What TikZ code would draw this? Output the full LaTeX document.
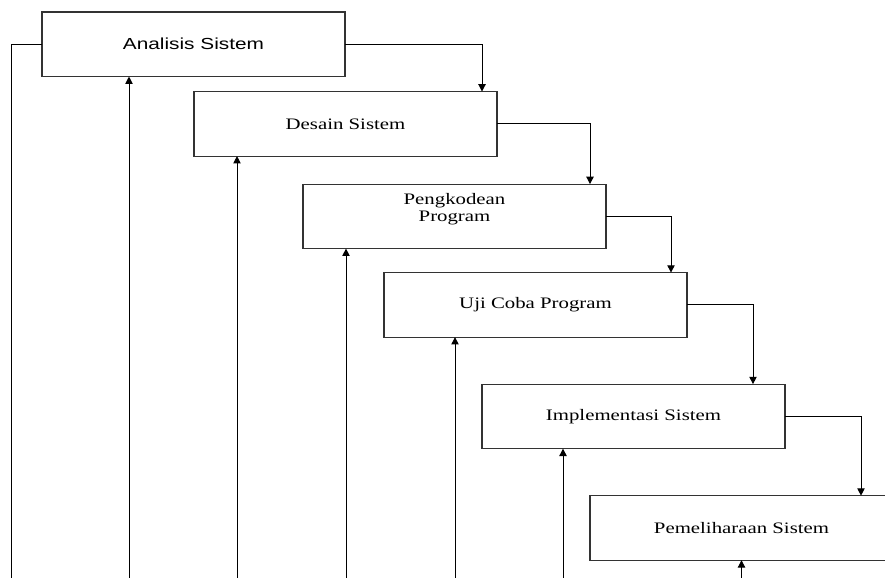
\documentclass[tikz,border=0pt]{standalone}
\usepackage{graphicx}
\usepackage{fontspec}
\setmainfont{Liberation Serif}
\newfontfamily\arialfont{Liberation Sans}
\usepackage{tikz}
\usetikzlibrary{calc,positioning,arrows.meta}

\newcommand{\lebar}[1]{\scalebox{1.3}[1]{#1}}

\tikzset{
	tahap/.style={shape=rectangle,draw=black!80,line width=0.8pt,minimum width=227.25pt,minimum height=48.4pt,inner sep=0pt,outer sep=0pt,anchor=north west,align=center,font=\fontsize{12}{12.75}\selectfont},
	tulisan/.style={align=center,font=\fontsize{12}{12.75}\selectfont},
	alur/.style={-{Triangle[width=5.5pt,length=5.5pt]},line width=0.75pt},
}

\begin{document}
\begin{tikzpicture}[x=0.75pt,y=-0.75pt]
		\useasboundingbox (0,0) rectangle (885,578);
		\clip (0,0) rectangle (885,578);
		\coordinate (dasar) at (0,578);
		% tahap
		\node(1) [tahap] at (42,12) {\arialfont\lebar{Analisis Sistem}};
		\node(2) [tahap] at ($(1.south west)+(152,15)$) {\lebar{Desain Sistem}};
		\node(3) [tahap,label={[tulisan,yshift=5pt]center:{\lebar{Pengkodean}\\\lebar{Program}}}] at ($(2.south west)+(109,28)$) {};
		\node(4) [tahap] at ($(3.south west)+(81,24)$) {\lebar{Uji Coba Program}};
		\node(5) [tahap] at ($(4.south west)+(98,47)$) {\lebar{Implementasi Sistem}};
		\node(6) [tahap] at ($(5.south west)+(108,47)$) {\lebar{Pemeliharaan Sistem}};
		% alur maju
		\draw [alur] (1.east) -| ($(2.north east)+(-15,0)$);
		\draw [alur] (2.east) -| ($(3.north east)+(-16,0)$);
		\draw [alur] (3.east) -| ($(4.north east)+(-16,0)$);
		\draw [alur] (4.east) -| ($(5.north east)+(-32,0)$);
		\draw [alur] (5.east) -| ($(6.north east)+(-32,0)$);
		% alur balik
		\draw [line width=0.75pt] (1.west) -| ($(dasar)+(11,0)$);
		\coordinate (k1) at ($(1.south west)+(87,0)$);
		\coordinate (k2) at ($(2.south west)+(43,0)$);
		\coordinate (k3) at ($(3.south west)+(43,0)$);
		\coordinate (k4) at ($(4.south west)+(71,0)$);
		\coordinate (k5) at ($(5.south west)+(81,0)$);
		\coordinate (k6) at (6.south);
		\foreach \k in {k1,k2,k3,k4,k5,k6}
			\draw [alur] (\k |- dasar) -- (\k);
	\end{tikzpicture}
\end{document}
